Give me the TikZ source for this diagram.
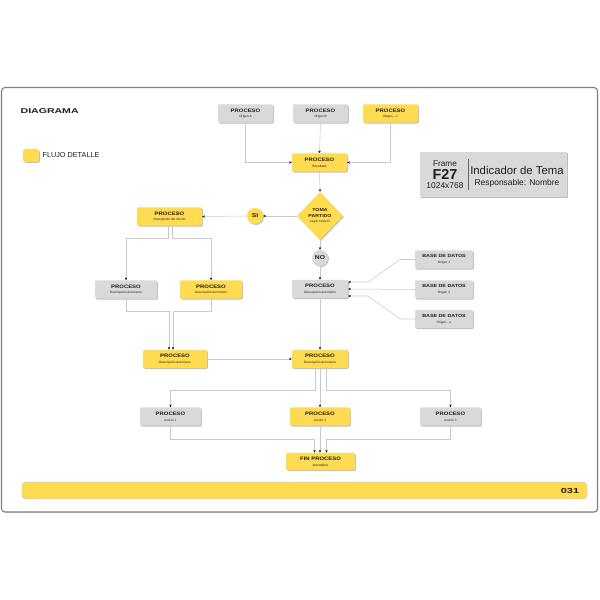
\documentclass[tikz,border=0pt]{standalone}
\usepackage{fontspec}
\setmainfont{Liberation Sans}
\newfontfamily\boxfont{Liberation Sans}[FakeStretch=1.2]
\newfontfamily\headfont{Liberation Sans}[FakeStretch=1.5]
\usetikzlibrary{arrows.meta, calc, shapes.geometric, shadows}
\definecolor{flowyellow}{RGB}{255,219,82}
\definecolor{flowgray}{RGB}{217,217,217}
\definecolor{linkgray}{RGB}{200,200,200}
\definecolor{inkgray}{RGB}{30,30,30}
\newcommand{\proc}[2]{{\boxfont\bfseries\fontsize{4.2}{4.6}\selectfont #1}\\{\fontsize{2.7}{3}\selectfont #2}}
\newcommand{\base}[1]{{\boxfont\bfseries\fontsize{3.8}{4.2}\selectfont BASE DE DATOS}\\{\fontsize{2.7}{3}\selectfont #1}}
\newcommand{\choice}{{\boxfont\bfseries\fontsize{3.7}{4.3}\selectfont TOMA}\\{\boxfont\bfseries\fontsize{3.7}{4.3}\selectfont PARTIDO}\\{\fontsize{2.5}{3}\selectfont Según Criterio?}}
\tikzset{
  box/.style={rectangle, rounded corners=1.2pt, inner sep=0pt, minimum height=0.55cm,
    minimum width=1.68cm, align=center, text=inkgray, font=\fontsize{3}{4.9}\selectfont,
    drop shadow={shadow xshift=0.8pt, shadow yshift=-0.8pt, opacity=0.5}},
  gbox/.style={box, fill=flowgray},
  ybox/.style={box, fill=flowyellow},
  dot/.style={circle, inner sep=0pt, minimum size=0.48cm, text=inkgray,
    font=\boxfont\bfseries\fontsize{4.8}{5.2}\selectfont,
    drop shadow={shadow xshift=0.8pt, shadow yshift=-0.8pt, opacity=0.5}},
  link/.style={draw=linkgray, line width=0.45pt},
  flow/.style={link, -{Stealth[length=2.2pt,width=2pt,color=black]}},
}

\begin{document}
\begin{tikzpicture}[x=0.03cm, y=-0.03cm]
    \useasboundingbox (0,0) rectangle (600,600);
    % page frame and footer
    \path [fill=white, draw=black!50, line width=0.9pt, rounded corners=3pt,
      drop shadow={shadow xshift=0.6pt, shadow yshift=-0.6pt, opacity=0.4}] (1.5,87.5) rectangle (597.5,512);
    \node (title) [anchor=west, text=inkgray, font=\headfont\bfseries\fontsize{6}{7}\selectfont] at (16.5,111) {DIAGRAMA};
    \node (legend) [ybox, minimum width=0.48cm, minimum height=0.39cm, rounded corners=1.5pt] at (31,155.5) {};
    \node (legendtxt) [anchor=west, text=inkgray, font=\fontsize{6.2}{7}\selectfont, inner sep=1pt] at ($(legend.east)+(2,0)$) {FLUJO DETALLE};
    \node (bar) [fill=flowyellow, draw=black!20, rounded corners=3pt, minimum width=16.95cm, minimum height=0.5cm] at (304.5,490.5) {};
    \node (page) [anchor=east, text=inkgray, font=\headfont\bfseries\fontsize{6.2}{7}\selectfont] at ($(bar.east)+(-4,0)$) {031};

    % frame info
    \node (info) [rectangle, fill=flowgray, minimum width=4.41cm, minimum height=1.35cm,
      drop shadow={shadow xshift=1pt, shadow yshift=-1pt, opacity=0.5}] at (493.5,174.5) {};
    \node (frm) [text=inkgray, font=\fontsize{7}{8}\selectfont] at (445,164) {Frame};
    \node (fid) [text=inkgray, font=\bfseries\fontsize{12.3}{13}\selectfont] at (445,174.5) {F27};
    \node (fsize) [text=inkgray, font=\fontsize{7.2}{8}\selectfont] at (445,186) {1024x768};
    \draw [black!60, line width=0.5pt] (468,159) -- (468,190);
    \node (topic) [text=inkgray, font=\fontsize{9.7}{11}\selectfont] at (517,170) {Indicador de Tema};
    \node (owner) [text=inkgray, font=\fontsize{7.2}{8}\selectfont] at (517,183) {Responsable: Nombre};

    % nodes
    \node (orgA) [gbox, minimum width=1.65cm] at (245.5,113.5) {\proc{PROCESO}{Origen A}};
    \node (orgB) [gbox, minimum width=1.65cm] at (320.5,113.5) {\proc{PROCESO}{Origen B}};
    \node (orgC) [ybox, minimum width=1.65cm] at (390.5,113.5) {\proc{PROCESO}{Origen ...x}};
    \node (res) [ybox, minimum width=1.65cm] at (319.5,162.5) {\proc{PROCESO}{Resultado}};
    \node (dec) [diamond, fill=flowyellow, inner sep=0pt, minimum width=1.38cm, minimum height=1.44cm,
      align=center, text=inkgray, font=\fontsize{3}{4.6}\selectfont,
      drop shadow={shadow xshift=0.8pt, shadow yshift=-0.8pt, opacity=0.5}] at (320,216) {\choice};
    \node (si) [dot, fill=flowyellow] at (255,216) {SI};
    \node (no) [dot, fill=flowgray] at (320,258) {NO};
    \node (des1) [ybox, minimum width=1.95cm] at (169.5,216.5) {\proc{PROCESO}{Descripción del mismo}};
    \node (des2) [gbox, minimum width=1.86cm] at (126,289.5) {\proc{PROCESO}{Descripción del mismo}};
    \node (des3) [ybox, minimum width=1.86cm] at (211,289.5) {\proc{PROCESO}{Descripción del mismo}};
    \node (mid) [gbox] at (320,289) {\proc{PROCESO}{Descripción del mismo}};
    \node (bd1) [gbox, minimum width=1.74cm] at (444,259.5) {\base{Origen 1}};
    \node (bd2) [gbox, minimum width=1.74cm] at (444,289.5) {\base{Origen 2}};
    \node (bd3) [gbox, minimum width=1.74cm] at (444,319) {\base{Origen ...x}};
    \node (des4) [ybox, minimum width=1.92cm] at (175,359) {\proc{PROCESO}{Descripción del mismo}};
    \node (cen) [ybox] at (320,359) {\proc{PROCESO}{Descripción del mismo}};
    \node (acc1) [gbox, minimum width=1.83cm] at (170.5,416.5) {\proc{PROCESO}{Acción 1}};
    \node (acc2) [ybox, minimum width=1.8cm] at (320,416.5) {\proc{PROCESO}{Acción 2}};
    \node (acc3) [gbox, minimum width=1.83cm] at (450.5,416.5) {\proc{PROCESO}{Acción 3}};
    \node (fin) [ybox, minimum width=2.07cm, minimum height=0.52cm] at (320.5,461.5) {\proc{FIN PROCESO}{Automático}};

    % connectors
    \draw [flow] (orgA.south) |- (res.west);
    \draw [flow] (orgB.south) -- (res.north);
    \draw [flow] (orgC.south) |- (res.east);
    \draw [flow] (res.south) -- (dec.north);
    \draw [flow] (dec.west) -- (si.east);
    \draw [flow] (si.west) -- (des1.east);
    \draw [flow] (dec.south) -- (no.north);
    \draw [flow] (no.south) -- (mid.north);
    \draw [flow] ($(des1.south)+(-1.5,0)$) -- ++(0,12) -| (des2.north);
    \draw [flow] ($(des1.south)+(2.5,0)$) -- ++(0,12) -| (des3.north);
    \draw [flow] (bd1.west) -- ++(-15,0) -- ($(mid.east)+(20,-7)$) -- ($(mid.east)+(0,-7)$);
    \draw [flow] (bd2.west) -- (mid.east);
    \draw [flow] (bd3.west) -- ++(-15,0) -- ($(mid.east)+(20,7)$) -- ($(mid.east)+(0,7)$);
    \draw [flow] (des2.south) -- ++(0,12) -| ($(des4.north)+(-6,0)$);
    \draw [flow] (des3.south) -- ++(0,12) -| ($(des4.north)+(-2,0)$);
    \draw [flow] (des4.east) -- (cen.west);
    \draw [flow] (mid.south) -- (cen.north);
    \draw [flow] ($(cen.south)+(-5,0)$) -- ++(0,22) -| (acc1.north);
    \draw [flow] (cen.south) -- (acc2.north);
    \draw [flow] ($(cen.south)+(6,0)$) -- ++(0,22) -| (acc3.north);
    \draw [flow] (acc1.south) -- ++(0,13) -| ($(fin.north)+(-6,0)$);
    \draw [flow] (acc2.south) -- (acc2.south |- fin.north);
    \draw [flow] (acc3.south) -- ++(0,13) -| ($(fin.north)+(6,0)$);
\end{tikzpicture}
\end{document}
